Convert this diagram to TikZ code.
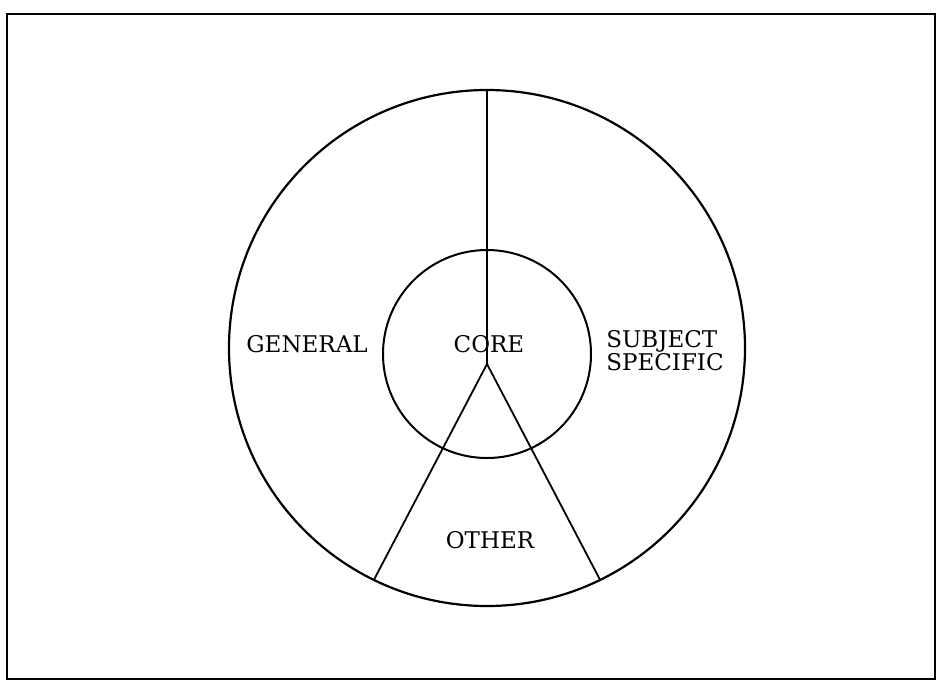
\documentclass[tikz,border=0pt]{standalone}
\usepackage{fontspec}
\setmainfont{DejaVu Serif}
\usepackage{tikz}
\usetikzlibrary{positioning,calc}

\begin{document}
\begin{tikzpicture}[x=1pt,y=-1pt,every node/.style={font=\fontsize{23}{21}\selectfont, align=left},
    ring/.style={draw, circle, inner sep=0pt, outer sep=0pt, line width=2.2pt},
    divider/.style={line width=1.8pt}]
        \useasboundingbox (0,0) rectangle (945,681);
        \draw[line width=2.4pt] (7,14) rectangle (935,679);
        \node[ring, minimum size=516pt] (outer) at (487,348) {};
        \node[ring, minimum size=208pt, line width=2pt] (inner) at (487,354) {};
        \coordinate (apex) at (487,364);
        \draw[divider] (outer.north) -- (apex);
        \draw[divider] (apex) -- (outer.244);
        \draw[divider] (apex) -- (outer.296.5);
        \node (general) at (307,344) {GENERAL};
        \node (core) at (489,344) {CORE};
        \node (subject) at (665,351) {SUBJECT\\SPECIFIC};
        \node (other) at (490,540) {OTHER};
    \end{tikzpicture}
\end{document}
